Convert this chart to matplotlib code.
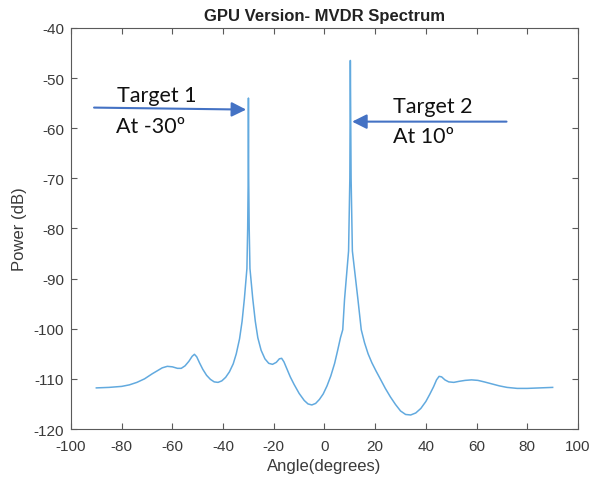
import matplotlib
matplotlib.use("Agg")
import matplotlib.pyplot as plt

# MVDR spectrum (angle in degrees, power in dB)
angle = [-90, -85, -80, -77, -74, -71, -68, -66, -64, -62, -60, -58, -56.5, -55,
         -53.5, -52.2, -51.3, -50.4, -49.3, -48, -46.5, -45, -43.5, -42, -40.5,
         -39, -37.5, -36, -34.8, -33.5, -32.5, -31.6, -30.6, -30.3, -30.1,
         -30, -29.9, -29.7, -29.4, -28.3, -27.3, -26.3, -25, -23.5, -22, -20.5,
         -19, -17.8, -16.9, -16, -15, -13.5, -12, -10, -8, -6.5, -5, -3.5, -2,
         -0.5, 1, 2.5, 4, 5.2, 6.3, 7.2, 7.9, 9.5, 10, 10.2, 10.5, 11, 13.2,
         14.5, 15.8, 17.2, 18.7, 20.3, 22, 24, 26, 28, 30, 32, 34, 36, 38, 40,
         41.5, 43, 44.2, 45.2, 46.2, 47.5, 49, 51, 53, 55.5, 58, 60.5, 63, 66,
         69, 72, 76, 80, 85, 90]
power = [-111.8, -111.7, -111.5, -111.2, -110.7, -110.0, -109.0, -108.4, -107.8,
         -107.5, -107.6, -107.9, -107.9, -107.4, -106.5, -105.5, -105.1, -105.6,
         -106.8, -108.1, -109.3, -110.1, -110.6, -110.7, -110.4, -109.7, -108.6,
         -107.0, -105.0, -102.0, -98.5, -94.0, -88.0, -80.0, -70.0,
         -54.0, -70.0, -80.0, -88.0, -94.0, -98.5, -101.8, -104.3, -106.0,
         -106.9, -107.1, -106.7, -106.0, -105.9, -106.6, -107.8, -109.6, -111.1,
         -112.9, -114.3, -115.0, -115.2, -114.9, -114.1, -113.0, -111.4, -109.4,
         -106.9, -104.3, -101.8, -100.2, -94.2, -84.5,
         -70.0, -46.5, -70.0, -84.5, -94.2, -100.2, -102.8, -105.0, -106.8,
         -108.4, -110.0, -111.9, -113.6, -115.1, -116.4, -117.1, -117.2, -116.8,
         -115.9, -114.5, -113.1, -111.6, -110.2, -109.5, -109.6, -110.2, -110.6,
         -110.7, -110.5, -110.3, -110.2, -110.3, -110.6, -111.0, -111.4, -111.7,
         -111.9, -111.9, -111.8, -111.7]

xticks = list(range(-100, 101, 20))
yticks = list(range(-120, -39, 10))

axis_col = "#5a5a5a"
line_col = "#62aadf"
note_col = "#4472C4"

plt.rcParams['font.family'] = ['Liberation Sans', 'DejaVu Sans']
plt.rcParams['axes.unicode_minus'] = False

fig = plt.figure(figsize=(5.93, 4.81), dpi=100)
ax = fig.add_axes([0.1197, 0.106, 0.855, 0.834])

ax.plot(angle, power, color=line_col, lw=1.1)

ax.set_xlim(-100, 100)
ax.set_ylim(-120, -40)
ax.set_xticks(xticks)
ax.set_yticks(yticks)
ax.tick_params(direction='in', top=True, right=True, length=4, width=0.8,
               colors=axis_col, labelsize=11, labelcolor="#3a3a3a")
ax.tick_params(axis='x', pad=7)
ax.tick_params(axis='y', pad=5)
for s in ax.spines.values():
    s.set_color(axis_col)
    s.set_linewidth(0.8)

ax.set_title("GPU Version- MVDR Spectrum", fontsize=12, fontweight='bold',
             color="#222222", pad=6)
ax.set_xlabel("Angle(degrees)", fontsize=12, color="#3a3a3a", labelpad=4)
ax.set_ylabel("Power (dB)", fontsize=12, color="#3a3a3a", labelpad=5)

# target annotations
arrow = dict(arrowstyle='-|>', mutation_scale=22, lw=1.5, color=note_col,
             shrinkA=0, shrinkB=0)
ax.annotate("", xy=(-30.9, -56.3), xytext=(-90.9, -55.9), arrowprops=arrow)
ax.annotate("", xy=(10.9, -58.7), xytext=(71.8, -58.7), arrowprops=arrow)

note = dict(fontsize=15.5, family=['Lato', 'DejaVu Sans'], color="#111111",
            va='baseline', ha='left')
ax.text(-81.8, -54.6, "Target 1", **note)
ax.text(-82.2, -60.8, "At -30º", **note)
ax.text(26.9, -56.8, "Target 2", **note)
ax.text(26.9, -62.8, "At 10º", **note)

fig.savefig("out.png", dpi=100, facecolor='white')
